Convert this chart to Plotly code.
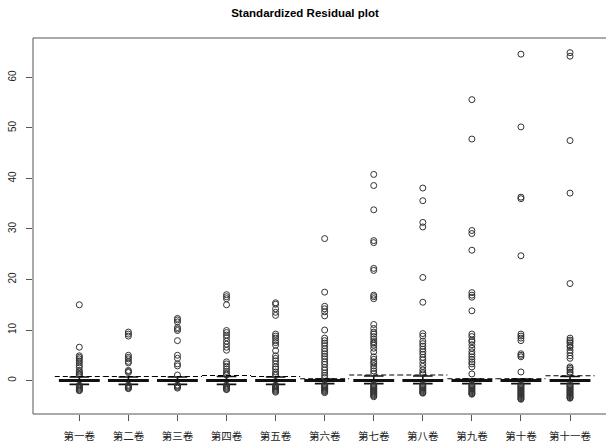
import plotly.graph_objects as go

categories = ["第一卷", "第二卷", "第三卷", "第四卷", "第五卷", "第六卷",
              "第七卷", "第八卷", "第九卷", "第十卷", "第十一卷"]

# box statistics (standardized residuals)
q1 = [-0.15] * 11
median = [0.0] * 11
q3 = [0.15] * 11
lower_fence = [-0.75, -0.75, -0.75, -0.75, -0.75, -0.6, -0.6, -0.6, -0.6, -0.6, -0.6]
upper_fence = [0.7, 0.7, 0.7, 0.8, 0.7, 0.3, 0.9, 0.9, 0.3, 0.3, 0.8]

# dashed reference level per volume
reference_level = [0.8, 0.8, 0.8, 1.0, 0.8, 0.35, 1.1, 1.1, 0.35, 0.35, 0.95]

# upper outliers per volume
upper_outliers = [
    [15.0, 6.6, 4.9, 4.6, 4.3, 3.9, 3.5, 3.0, 2.6, 2.0, 1.7, 1.4, 1.2, 1.1],
    [9.6, 9.2, 8.8, 5.0, 4.6, 4.3, 3.8, 3.5, 2.0, 1.8, 1.6],
    [12.3, 12.0, 11.6, 10.5, 10.2, 9.9, 7.9, 5.0, 4.4, 3.3, 2.9, 1.1],
    [17.0, 16.6, 16.2, 15.0, 9.9, 9.5, 9.0, 8.5, 7.8, 7.2, 6.6, 6.0, 3.7, 3.3,
     2.8, 2.3, 1.8, 1.4, 1.1],
    [15.4, 15.1, 14.2, 13.5, 12.9, 9.2, 8.8, 8.4, 7.9, 7.5, 7.0, 5.9, 4.9, 4.4,
     3.9, 3.3, 2.7, 2.3, 1.7, 1.3, 1.0],
    [28.1, 17.5, 14.7, 14.2, 13.6, 12.8, 10.0, 8.4, 7.9, 7.4, 6.9, 6.3, 5.8, 5.3,
     4.8, 4.3, 3.7, 3.2, 2.6, 2.1, 1.5, 1.0, 0.6],
    [40.8, 38.6, 33.8, 27.7, 27.3, 22.2, 21.8, 16.9, 16.6, 16.2, 11.1, 10.3, 9.6,
     9.2, 8.7, 8.2, 7.7, 7.4, 7.0, 6.4, 5.7, 4.7, 4.2, 3.7, 3.4, 2.9, 2.4, 1.9, 1.4],
    [38.1, 35.6, 31.3, 30.4, 20.4, 15.5, 9.3, 8.8, 7.8, 7.3, 6.8, 6.2, 5.7, 5.2,
     4.6, 4.1, 3.4, 2.8, 2.1, 1.6, 1.3],
    [55.6, 47.8, 29.7, 29.1, 25.8, 17.4, 16.9, 16.5, 13.8, 9.2, 8.7, 8.0, 7.7,
     7.1, 6.4, 5.7, 5.2, 4.7, 4.2, 3.7, 3.3, 2.7, 1.3],
    [64.6, 50.2, 36.3, 36.0, 24.7, 9.2, 8.8, 8.4, 7.9, 5.3, 5.0, 4.7, 1.7],
    [64.9, 64.2, 47.5, 37.1, 19.2, 8.4, 8.0, 7.7, 7.4, 6.9, 6.6, 6.0, 5.5, 4.9,
     4.4, 2.7, 2.4, 2.1, 1.7, 1.4],
]

# lower outliers per volume (dense columns)
lower_outliers = [
    [-0.9, -1.1, -1.3, -1.5, -1.7, -1.9, -2.0],
    [-0.9, -1.1, -1.3, -1.5, -1.6],
    [-0.9, -1.1, -1.3, -1.5],
    [-0.9, -1.1, -1.3, -1.5, -1.7, -1.8],
    [-0.9, -1.1, -1.3, -1.5, -1.7, -1.9, -2.1, -2.3],
    [-0.8, -1.0, -1.2, -1.4, -1.6, -1.8, -2.0, -2.2, -2.4],
    [-0.8, -1.0, -1.2, -1.4, -1.6, -1.8, -2.0, -2.2, -2.4, -2.6, -2.8, -3.0, -3.2],
    [-0.8, -1.0, -1.2, -1.4, -1.6, -1.8, -2.0, -2.2, -2.4, -2.5],
    [-0.8, -1.0, -1.2, -1.4, -1.6, -1.8, -2.0, -2.2, -2.4, -2.6, -2.7],
    [-0.8, -1.0, -1.2, -1.4, -1.6, -1.8, -2.0, -2.2, -2.4, -2.6, -2.8, -3.0,
     -3.2, -3.4, -3.6, -3.7],
    [-0.8, -1.0, -1.2, -1.4, -1.6, -1.8, -2.0, -2.2, -2.4, -2.6, -2.8, -3.0,
     -3.2, -3.4, -3.5],
]

y_ticks = [0, 10, 20, 30, 40, 50, 60]

positions = list(range(1, len(categories) + 1))

fig = go.Figure()

# boxes
fig.add_trace(go.Box(
    x=positions, q1=q1, median=median, q3=q3,
    lowerfence=lower_fence, upperfence=upper_fence,
    width=0.8, whiskerwidth=0.5,
    line=dict(color="#111111", width=1.6),
    fillcolor="white",
    boxpoints=False, showlegend=False, hoverinfo="skip",
))

# outliers
ox, oy = [], []
for p, ups, lows in zip(positions, upper_outliers, lower_outliers):
    for v in ups + lows:
        ox.append(p)
        oy.append(v)
fig.add_trace(go.Scatter(
    x=ox, y=oy, mode="markers",
    marker=dict(symbol="circle-open", size=6, color="#333333",
                line=dict(width=1, color="#333333")),
    showlegend=False, hoverinfo="skip",
))

# dashed reference segments
dx, dy = [], []
for p, r in zip(positions, reference_level):
    dx += [p - 0.5, p + 0.5, None]
    dy += [r, r, None]
fig.add_trace(go.Scatter(
    x=dx, y=dy, mode="lines",
    line=dict(color="black", width=1.1, dash="5px,3px"),
    showlegend=False, hoverinfo="skip",
))

# plot frame (left, top, bottom; right side falls outside the picture)
frame_color = "#555555"
fig.add_shape(type="line", xref="paper", yref="paper", x0=0, x1=0, y0=0, y1=1,
              line=dict(color=frame_color, width=1))
fig.add_shape(type="line", xref="paper", yref="paper", x0=0, x1=1, y0=1, y1=1,
              line=dict(color=frame_color, width=1))
fig.add_shape(type="line", xref="paper", yref="paper", x0=0, x1=1, y0=0, y1=0,
              line=dict(color=frame_color, width=1))

FIG_W = 620  # wider than the window so the right frame edge is cut off

fig.update_layout(
    width=FIG_W, height=447,
    margin=dict(l=33, r=0, t=38, b=33),
    paper_bgcolor="white", plot_bgcolor="white",
    title=dict(text="<b>Standardized Residual plot</b>",
               font=dict(family="Liberation Sans, Arial", size=11.5, color="black"),
               x=305 / FIG_W, xref="container", xanchor="center",
               y=1 - 13 / 447, yref="container", yanchor="middle"),
    showlegend=False,
)

fig.update_xaxes(
    range=[0.056, 0.056 + (FIG_W - 33) / 49.07],
    tickmode="array", tickvals=positions, ticktext=categories,
    ticks="outside", ticklen=6, tickcolor="#555555", tickwidth=1,
    ticklabelstandoff=6,
    tickfont=dict(family="Noto Sans CJK SC", size=10.5, color="#222222"),
    showline=False, showgrid=False, zeroline=False,
)
fig.update_yaxes(
    range=[-6.62, 67.8],
    tickmode="array", tickvals=y_ticks, ticktext=[str(v) for v in y_ticks],
    tickangle=-90,
    ticks="outside", ticklen=6, tickcolor="#555555", tickwidth=1,
    ticklabelstandoff=6,
    tickfont=dict(family="Liberation Sans, Arial", size=10, color="#222222"),
    showline=False, showgrid=False, zeroline=False,
)

fig.write_html("out.html",
               config={"displayModeBar": False},
               post_script="document.body.style.margin='0';document.body.style.overflow='hidden';")
